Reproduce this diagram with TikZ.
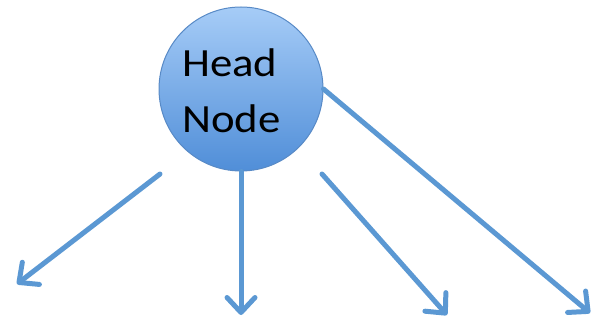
\documentclass[tikz,border=0pt]{standalone}
\usepackage{fontspec}
\setmainfont{Carlito}
\usetikzlibrary{arrows.meta}
\definecolor{arrowblue}{RGB}{91,152,211}
\definecolor{ballTop}{RGB}{166,204,247}
\definecolor{ballBottom}{RGB}{80,142,216}
\definecolor{ballEdge}{RGB}{88,138,198}
\tikzset{
  link/.style={draw=arrowblue, line width=5pt, line cap=round,
    -{Straight Barb[length=15pt, width=28pt, line cap=round, line join=round]}},
  ball/.style={circle, minimum size=164pt, inner sep=0pt, draw=ballEdge, line width=1pt,
    top color=ballTop, bottom color=ballBottom},
  caption/.style={align=left, inner sep=0pt, xscale=1.12, font=\fontsize{40}{56}\selectfont}
}
\begin{document}
\begin{tikzpicture}[x=1pt, y=-1pt]
  \useasboundingbox (0,0) rectangle (592,323);
  % head node
  \node[ball] (head) at (241,89) {};
  \node[caption, anchor=base west] (txt) at (182,133) {Head\\Node};
  % start points of the loose arrows
  \coordinate (s1) at (160,174);
  \coordinate (s3) at (322,174);
  % arrow tips
  \coordinate (t1) at (17,284);
  \coordinate (t2) at (241,315);
  \coordinate (t3) at (447,315);
  \coordinate (t4) at (590,313);
  \draw[link] (s1) -- (t1);
  \draw[link] (head.south) -- (t2);
  \draw[link] (s3) -- (t3);
  \draw[link] (head.east) -- (t4);
\end{tikzpicture}
\end{document}
